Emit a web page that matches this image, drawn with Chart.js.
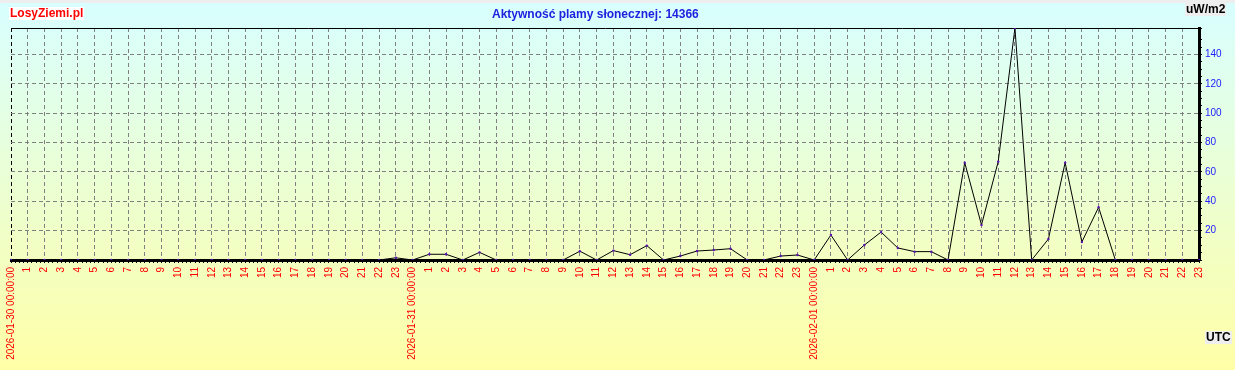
<!DOCTYPE html>
<html>
<head>
<meta charset="utf-8">
<script src="https://cdn.jsdelivr.net/npm/chart.js"></script>
<style>
  html, body { margin: 0; padding: 0; overflow: hidden; }
  #wrap {
    position: relative; width: 1235px; height: 370px;
    background: linear-gradient(to bottom, #eeeeee 0px, #eeeeee 3px, #d8ffff 3px, #ffffa6 370px);
    font-family: "Liberation Sans", Arial, sans-serif;
  }
  canvas { position: absolute; left: 0; top: 0; }
  .lbl { position: absolute; font-weight: bold; font-size: 12px; line-height: 13px; white-space: nowrap; }
  #site { left: 9px; top: 7px; color: #ff0000; background: #ffffff; padding: 0 1px; }
  #title { left: 492px; top: 8px; color: #2020e0; }
  #unit { left: 1185px; top: 3px; color: #000; background: #eeeeee; padding: 0 1px; }
  #utc { left: 1205px; top: 331px; color: #000; background: #eeeeee; padding: 0 1px; }
</style>
</head>
<body>
<div id="wrap">
  <canvas id="c" width="1235" height="370"></canvas>
  <div class="lbl" id="site">LosyZiemi.pl</div>
  <div class="lbl" id="title">Aktywność plamy słonecznej: 14366</div>
  <div class="lbl" id="unit">uW/m2</div>
  <div class="lbl" id="utc">UTC</div>
</div>
<script>
// ---- data ----
const days = ['2026-01-30 00:00:00', '2026-01-31 00:00:00', '2026-02-01 00:00:00'];
const hourTicks = ['1','2','3','4','5','6','7','8','9','10','11','12','13','14','15','16','17','18','19','20','21','22','23'];
const day1Values = [0,0,0,0,0,0,0,0,0,0,0,0,0,0,0,0,0,0,0,0,0,0,0,1.5];
const day2Values = [0,3.9,3.9,0,5.2,0,0,0,0,0,6.0,0,6.4,3.6,9.8,0,2.7,6.1,6.8,7.7,0,0,2.7,3.4];
const day3Values = [0,17,0,10.2,19,8.2,5.7,5.7,0,66.3,23.9,67,158,0,14.3,66.3,12.3,35.9,0,0,0,0,0,0];
const yMax = 158;
const yLabelStep = 20;
const yLabelMax = 140;

const labels = [];
days.forEach(d => { labels.push(d); hourTicks.forEach(h => labels.push(h)); });
const values = day1Values.concat(day2Values, day3Values);

new Chart(document.getElementById('c'), {
  type: 'line',
  data: {
    labels: labels,
    datasets: [{
      data: values,
      borderColor: '#000000',
      borderWidth: 1,
      tension: 0,
      pointRadius: 1.2,
      pointBorderWidth: 0,
      pointBackgroundColor: '#5a10b0',
      fill: false,
      xAxisID: 'x',
      yAxisID: 'y'
    }]
  },
  options: {
    responsive: false,
    animation: false,
    devicePixelRatio: 1,
    layout: { padding: { left: 11, top: 28, right: 0, bottom: 0 } },
    plugins: { legend: { display: false }, title: { display: false }, tooltip: { enabled: false } },
    scales: {
      xMinor: {
        type: 'linear', position: 'bottom', min: 0, max: labels.length - 1, weight: 0,
        ticks: { display: false, stepSize: 0.25, autoSkip: false },
        grid: { drawOnChartArea: false, drawTicks: true, tickLength: 3, tickColor: '#000', color: '#000' },
        border: { display: true, color: '#000', width: 3 },
        afterFit: s => { s.height = 4; }
      },
      x: {
        type: 'category', position: 'bottom', offset: false, weight: 10,
        ticks: {
          autoSkip: false, maxRotation: 90, minRotation: 90, padding: 3,
          color: '#ff0000', font: { family: '"Liberation Sans", Arial, sans-serif', size: 10 }
        },
        grid: {
          drawTicks: false, lineWidth: 1,
          color: ctx => ctx.index === 0 ? '#000000' : '#808080'
        },
        border: { display: false, dash: [4, 3] },
        afterFit: s => { s.height = 106; }
      },
      xTop: {
        type: 'linear', position: 'top', min: 0, max: 1, display: true,
        ticks: { display: false },
        grid: { display: false, drawTicks: false },
        border: { display: true, color: '#000', width: 1 },
        afterFit: s => { s.height = 0; }
      },
      y: {
        type: 'linear', position: 'right', min: 0, max: yMax,
        ticks: {
          stepSize: 5, autoSkip: false, padding: 3,
          color: '#2020ff', font: { family: '"Liberation Sans", Arial, sans-serif', size: 10 },
          callback: v => (v > 0 && v <= yLabelMax && v % yLabelStep === 0) ? String(v) : ''
        },
        grid: {
          drawTicks: true, tickLength: 3, tickColor: '#000', lineWidth: 1,
          color: ctx => (ctx.tick && ctx.tick.value > 0 && ctx.tick.value % yLabelStep === 0 && ctx.tick.value <= yLabelMax) ? '#808080' : 'rgba(0,0,0,0)'
        },
        border: { display: true, color: '#000', width: 3, dash: [4, 3] },
        afterFit: s => { s.width = 36; }
      }
    }
  }
});
</script>
</body>
</html>
